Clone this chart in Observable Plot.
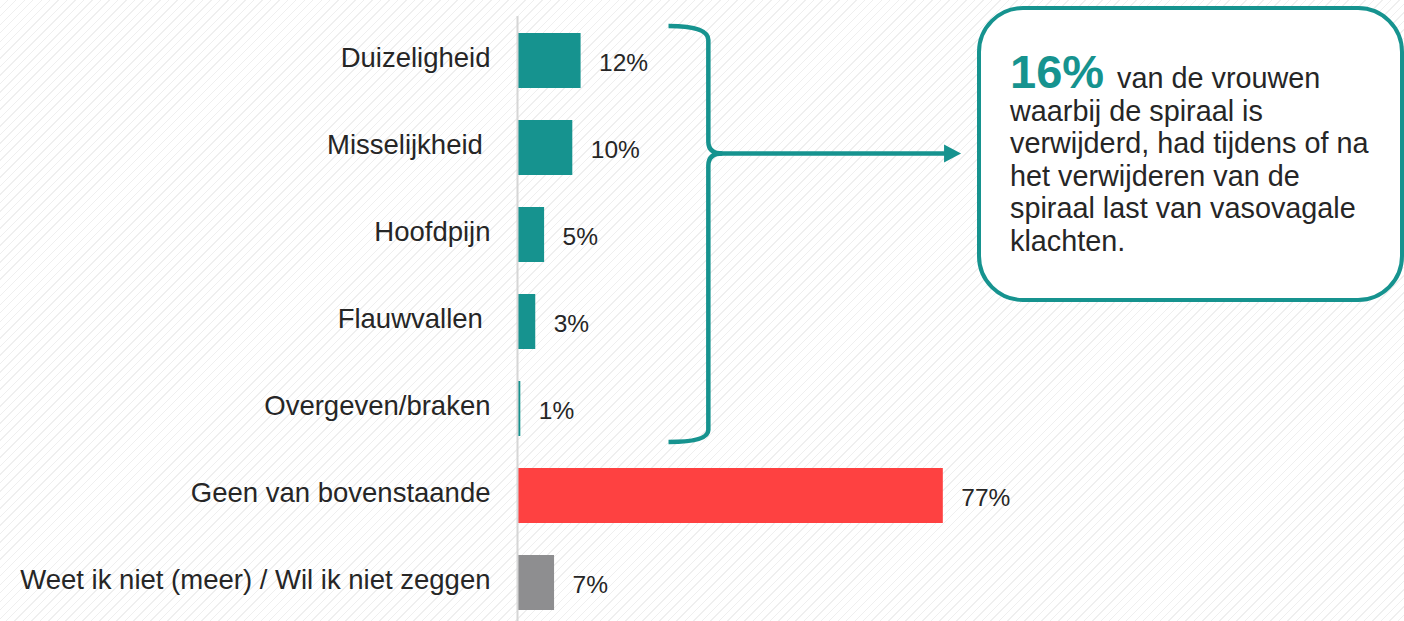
<!DOCTYPE html>
<html>
<head>
<meta charset="utf-8">
<script src="https://cdn.jsdelivr.net/npm/d3@7"></script>
<script src="https://cdn.jsdelivr.net/npm/@observablehq/plot@0.6"></script>
<style>
  html, body { margin: 0; padding: 0; }
  body {
    width: 1404px; height: 621px; overflow: hidden;
    background-color: #ffffff;
    background-image: repeating-linear-gradient(135deg, #ffffff 0px, #ffffff 5px, #efefef 5px, #efefef 6px);
    font-family: "Liberation Sans", Arial, sans-serif;
  }
  svg { background: transparent !important; display: block; }
</style>
</head>
<body>
<div id="chart"></div>
<script>
// ---- data ----
const categories = [
  "Duizeligheid",
  "Misselijkheid\u00a0",
  "Hoofdpijn",
  "Flauwvallen\u00a0",
  "Overgeven/braken",
  "Geen van bovenstaande",
  "Weet ik niet (meer) / Wil ik niet zeggen"
];
const values = [11.5, 10.0, 4.9, 3.3, 0.6, 77.0, 6.7];
const valueLabels = ["12%", "10%", "5%", "3%", "1%", "77%", "7%"];
const groups = ["klacht", "klacht", "klacht", "klacht", "klacht", "geen", "weet niet"];
const groupColors = {"klacht": "#16938f", "geen": "#fe4141", "weet niet": "#8e8e90"};
const calloutValue = "16%";
const calloutLines = [
  " van de vrouwen",
  "waarbij de spiraal is",
  "verwijderd, had tijdens of na",
  "het verwijderen van de",
  "spiraal last van vasovagale",
  "klachten."
];

const rows = categories.map((c, i) => ({cat: c, value: values[i], label: valueLabels[i], group: groups[i]}));

const W = 1404, H = 621;
const plot = Plot.plot({
  width: W,
  height: H,
  marginLeft: 517,
  marginRight: 334,
  marginTop: 16,
  marginBottom: 0,
  style: {fontFamily: "'Liberation Sans', Arial, sans-serif", background: "transparent", overflow: "visible"},
  x: {domain: [0, 100], axis: null},
  y: {domain: categories, range: [16.4, 626.6], paddingInner: 0.37, paddingOuter: 0.185, label: null, axis: null},
  marks: [
    Plot.barX(rows, {x: "value", y: "cat", fill: d => groupColors[d.group]}),
    Plot.ruleX([0], {stroke: "#d6d6d6", strokeWidth: 2}),
    Plot.axisY({tickSize: 0, tickPadding: 27, fontSize: 27.5, fill: "#262626", dy: -2.5, label: null}),
    Plot.text(rows, {x: "value", y: "cat", text: "label", dx: 18, dy: 2, textAnchor: "start", fontSize: 24.5, fill: "#262626"})
  ]
});
document.getElementById("chart").appendChild(plot);

// ---- annotations: brace, arrow and callout ----
const teal = groupColors["klacht"];
const xs = plot.scale("x"), ys = plot.scale("y");
const svg = d3.select(plot);
const bw = ys.bandwidth;
const braceTop = ys.apply(categories[0]) - 7;
const braceBot = ys.apply(categories[4]) + bw + 6;
const braceMid = ys.apply(categories[1]) + bw / 2 + 6;
const bx = xs.apply(34.6), bl = xs.apply(27.4);
const g = svg.append("g").attr("fill", "none").attr("stroke", teal).attr("stroke-width", 4.5);
g.append("path").attr("d",
  `M${bl},${braceTop} Q${bx},${braceTop} ${bx},${braceTop + 14} L${bx},${braceMid - 12} Q${bx},${braceMid} ${bx + 14},${braceMid} Q${bx},${braceMid} ${bx},${braceMid + 12} L${bx},${braceBot - 12} Q${bx},${braceBot} ${bl},${braceBot}`);
const ax2 = xs.apply(80.3);
g.append("line").attr("x1", bx + 4).attr("x2", ax2 - 14).attr("y1", braceMid).attr("y2", braceMid);
svg.append("path").attr("fill", teal)
  .attr("d", `M${ax2 - 17},${braceMid - 9} L${ax2},${braceMid} L${ax2 - 17},${braceMid + 9} Z`);

// callout box
const cb = svg.append("g");
cb.append("rect").attr("x", 979).attr("y", 8).attr("width", 423).attr("height", 292).attr("rx", 44)
  .attr("fill", "#ffffff").attr("stroke", teal).attr("stroke-width", 4);
const t = cb.append("text").attr("font-family", "'Liberation Sans', Arial, sans-serif").attr("fill", "#262626").attr("text-anchor", "start");
t.append("tspan").attr("x", 1010).attr("y", 88).attr("font-size", 47).attr("font-weight", "bold").attr("fill", teal).text(calloutValue);
t.append("tspan").attr("font-size", 28.8).attr("dx", 5).text(calloutLines[0]);
calloutLines.slice(1).forEach((line, i) => {
  t.append("tspan").attr("x", 1010).attr("y", 88 + 32.6 * (i + 1)).attr("font-size", 28.8).text(line);
});
</script>
</body>
</html>
